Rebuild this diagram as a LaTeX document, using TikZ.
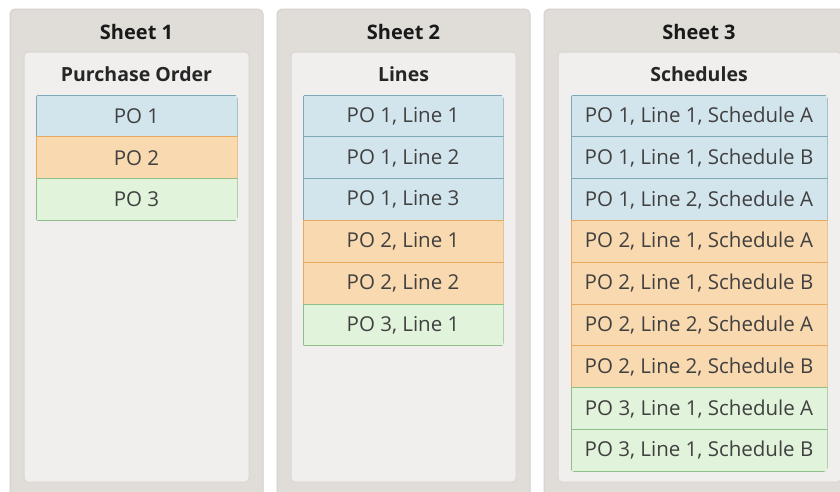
\documentclass[tikz,border=0pt]{standalone}
\usepackage{fontspec}
\setmainfont{Open Sans}
\usetikzlibrary{positioning}
\definecolor{sheetgray}{HTML}{E0DDD9}
\definecolor{sheetline}{HTML}{D4D0CB}
\definecolor{tabgray}{HTML}{F0EFED}
\definecolor{tabline}{HTML}{DAD6D2}
\definecolor{poblue}{HTML}{D3E5EC}
\definecolor{poblueline}{HTML}{7EA8B6}
\definecolor{poorange}{HTML}{F9D9AF}
\definecolor{poorangeline}{HTML}{E8A95E}
\definecolor{pogreen}{HTML}{E1F4DB}
\definecolor{pogreenline}{HTML}{8FBE88}
\definecolor{rowtext}{HTML}{404040}
\tikzset{sheet/.style={fill=sheetgray, draw=sheetline, line width=1pt, rounded corners=5pt},
  tab/.style={fill=tabgray, draw=tabline, line width=1pt, rounded corners=4pt},
  sheethead/.style={font=\fontsize{20}{22}\selectfont\bfseries, text=black!90},
  tabhead/.style={font=\fontsize{19.5}{22}\selectfont\bfseries, text=black!85},
  row/.style={draw, line width=1pt, inner sep=0pt, outer sep=0pt, minimum height=41.8pt,
    text=rowtext, font=\fontsize{20.5}{22}\selectfont},
  rowA/.style={row, fill=poblue, draw=poblueline},
  rowB/.style={row, fill=poorange, draw=poorangeline},
  rowC/.style={row, fill=pogreen, draw=pogreenline}}

\begin{document}
\begin{tikzpicture}[x=1pt, y=-1pt]
  \clip (0,0) rectangle (840,491);
  % sheets
  \draw[sheet] (10,9) rectangle (263,500);
  \draw[sheet] (277,9) rectangle (530,500);
  \draw[sheet] (544,9) rectangle (855,500);
  \draw[tab] (24,52) rectangle (249,482);
  \draw[tab] (291,52) rectangle (516,482);
  \draw[tab] (558,52) rectangle (841,482);
  \node[sheethead] (sheetA) at (136.5,31.5) {Sheet 1};
  \node[sheethead] (sheetB) at (403.5,31.5) {Sheet 2};
  \node[sheethead] (sheetC) at (699,31.5) {Sheet 3};
  \node[tabhead] (tabA) at (136.5,74.5) {Purchase Order};
  \node[tabhead] (tabB) at (403.5,74.5) {Lines};
  \node[tabhead] (tabC) at (699,74.5) {Schedules};
  % purchase orders
  \begin{scope}
   \clip[rounded corners=4pt] (35.5,94.5) rectangle (237.5,221.5);
   \node[rowA, minimum width=201pt] (po1) at (136.5,116) {PO 1};
   \node[rowB, minimum width=201pt, below=0pt of po1] (po2) {PO 2};
   \node[rowC, minimum width=201pt, below=0pt of po2] (po3) {PO 3};
  \end{scope}
  % lines
  \begin{scope}
   \clip[rounded corners=4pt] (302.5,94.5) rectangle (503.5,347);
   \node[rowA, minimum width=200pt] (ln11) at (403,116) {PO 1, Line 1};
   \node[rowA, minimum width=200pt, below=0pt of ln11] (ln12) {PO 1, Line 2};
   \node[rowA, minimum width=200pt, below=0pt of ln12] (ln13) {PO 1, Line 3};
   \node[rowB, minimum width=200pt, below=0pt of ln13] (ln21) {PO 2, Line 1};
   \node[rowB, minimum width=200pt, below=0pt of ln21] (ln22) {PO 2, Line 2};
   \node[rowC, minimum width=200pt, below=0pt of ln22] (ln31) {PO 3, Line 1};
  \end{scope}
  % schedules
  \begin{scope}
   \clip[rounded corners=4pt] (570.5,94.5) rectangle (827.5,472);
   \node[rowA, minimum width=256pt] (sc11a) at (699,116) {PO 1, Line 1, Schedule A};
   \node[rowA, minimum width=256pt, below=0pt of sc11a] (sc11b) {PO 1, Line 1, Schedule B};
   \node[rowA, minimum width=256pt, below=0pt of sc11b] (sc12a) {PO 1, Line 2, Schedule A};
   \node[rowB, minimum width=256pt, below=0pt of sc12a] (sc21a) {PO 2, Line 1, Schedule A};
   \node[rowB, minimum width=256pt, below=0pt of sc21a] (sc21b) {PO 2, Line 1, Schedule B};
   \node[rowB, minimum width=256pt, below=0pt of sc21b] (sc22a) {PO 2, Line 2, Schedule A};
   \node[rowB, minimum width=256pt, below=0pt of sc22a] (sc22b) {PO 2, Line 2, Schedule B};
   \node[rowC, minimum width=256pt, below=0pt of sc22b] (sc31a) {PO 3, Line 1, Schedule A};
   \node[rowC, minimum width=256pt, below=0pt of sc31a] (sc31b) {PO 3, Line 1, Schedule B};
  \end{scope}
\end{tikzpicture}
\end{document}
